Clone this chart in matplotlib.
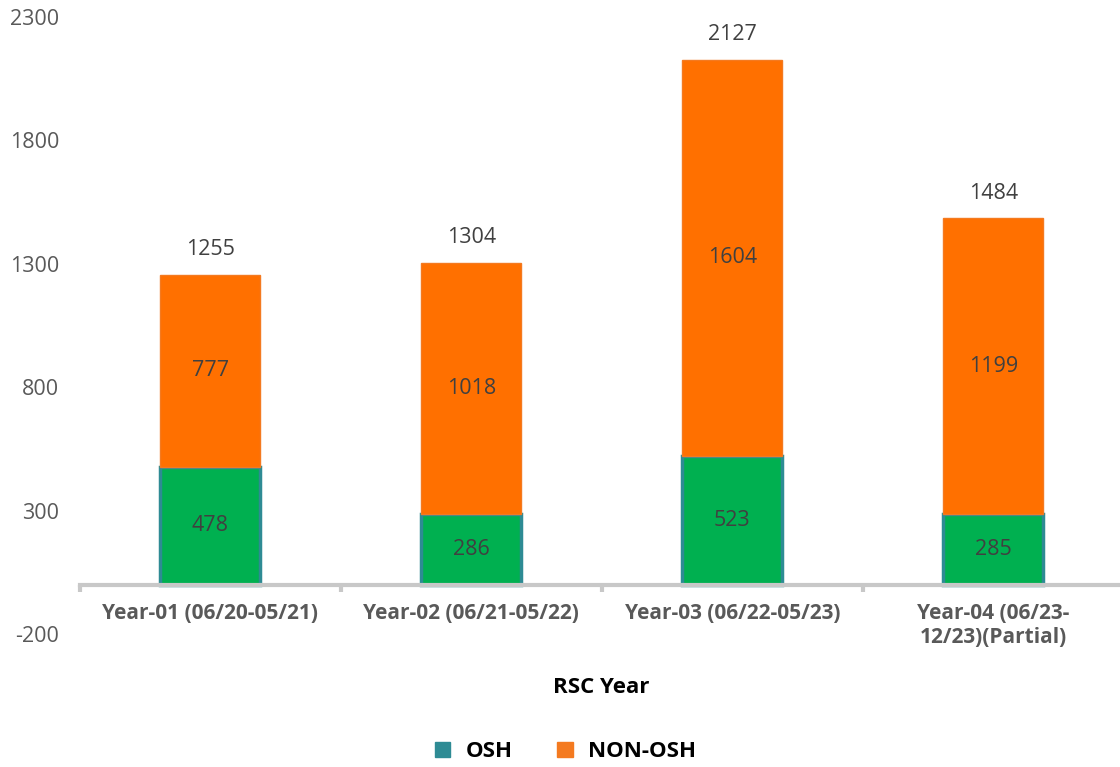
import matplotlib; matplotlib.use("Agg")
import matplotlib.pyplot as plt
from matplotlib.patches import Patch
import numpy as np

years = ["Year-01 (06/20-05/21)", "Year-02 (06/21-05/22)",
         "Year-03 (06/22-05/23)", "Year-04 (06/23-\n12/23)(Partial)"]
osh = [478, 286, 523, 285]
non_osh = [777, 1018, 1604, 1199]
totals = [1255, 1304, 2127, 1484]
yticks = [-200, 300, 800, 1300, 1800, 2300]

plt.rcParams["font.family"] = ["Open Sans", "DejaVu Sans"]
plt.rcParams["axes.unicode_minus"] = False
green, teal, orange = "#00B050", "#2E8B94", "#FF7000"
txt = "#404040"

fig = plt.figure(figsize=(11.2, 7.67), dpi=100)
ax = fig.add_axes([0.0714, 0.1734, 0.932, 0.8044])
x = np.arange(len(years))
w = 0.383
ax.bar(x, osh, w, color=green, edgecolor=teal, linewidth=2.5)
ax.bar(x, non_osh, w, bottom=osh, color=orange, edgecolor="#F47A20", linewidth=1)

# segment and total labels
for i in range(len(years)):
    ax.text(x[i], osh[i] / 2, str(osh[i]), ha="center", va="center", fontsize=15.5, color=txt)
    ax.text(x[i], osh[i] + non_osh[i] / 2, str(non_osh[i]), ha="center", va="center", fontsize=15.5, color=txt)
    ax.annotate(str(totals[i]), (x[i], totals[i]), xytext=(0, 18), textcoords="offset points",
                ha="center", va="center", fontsize=15.5, color=txt)

ax.set_xlim(-0.5, 3.5)
ax.set_ylim(-200, 2300)
ax.set_yticks(yticks)
ax.tick_params(axis="y", length=0, labelsize=15.5, labelcolor="#595959", pad=15)
for s in ["top", "right", "left"]:
    ax.spines[s].set_visible(False)
ax.spines["bottom"].set_position(("data", 0))
ax.spines["bottom"].set_color("#C8C8C8")
ax.spines["bottom"].set_linewidth(3)
ax.set_xticks(x)
ax.set_xticklabels(years, fontsize=15, fontweight="bold", color="#595959")
ax.set_xticks(np.arange(-0.5, 4, 1), minor=True)
ax.tick_params(axis="x", which="major", length=0, pad=13)
ax.tick_params(axis="x", which="minor", length=5, width=3, color="#C8C8C8")

fig.text(0.537, 0.103, "RSC Year", ha="center", va="center", fontsize=16, fontweight="bold")
handles = [Patch(color=teal, label="OSH"), Patch(color="#F47A20", label="NON-OSH")]
fig.legend(handles=handles, loc="center", bbox_to_anchor=(0.505, 0.02), ncol=2, frameon=False,
           prop={"size": 16, "weight": "bold"}, handlelength=0.7, handleheight=0.7,
           handletextpad=0.7, columnspacing=2.0)

plt.savefig("out.png", dpi=100)
